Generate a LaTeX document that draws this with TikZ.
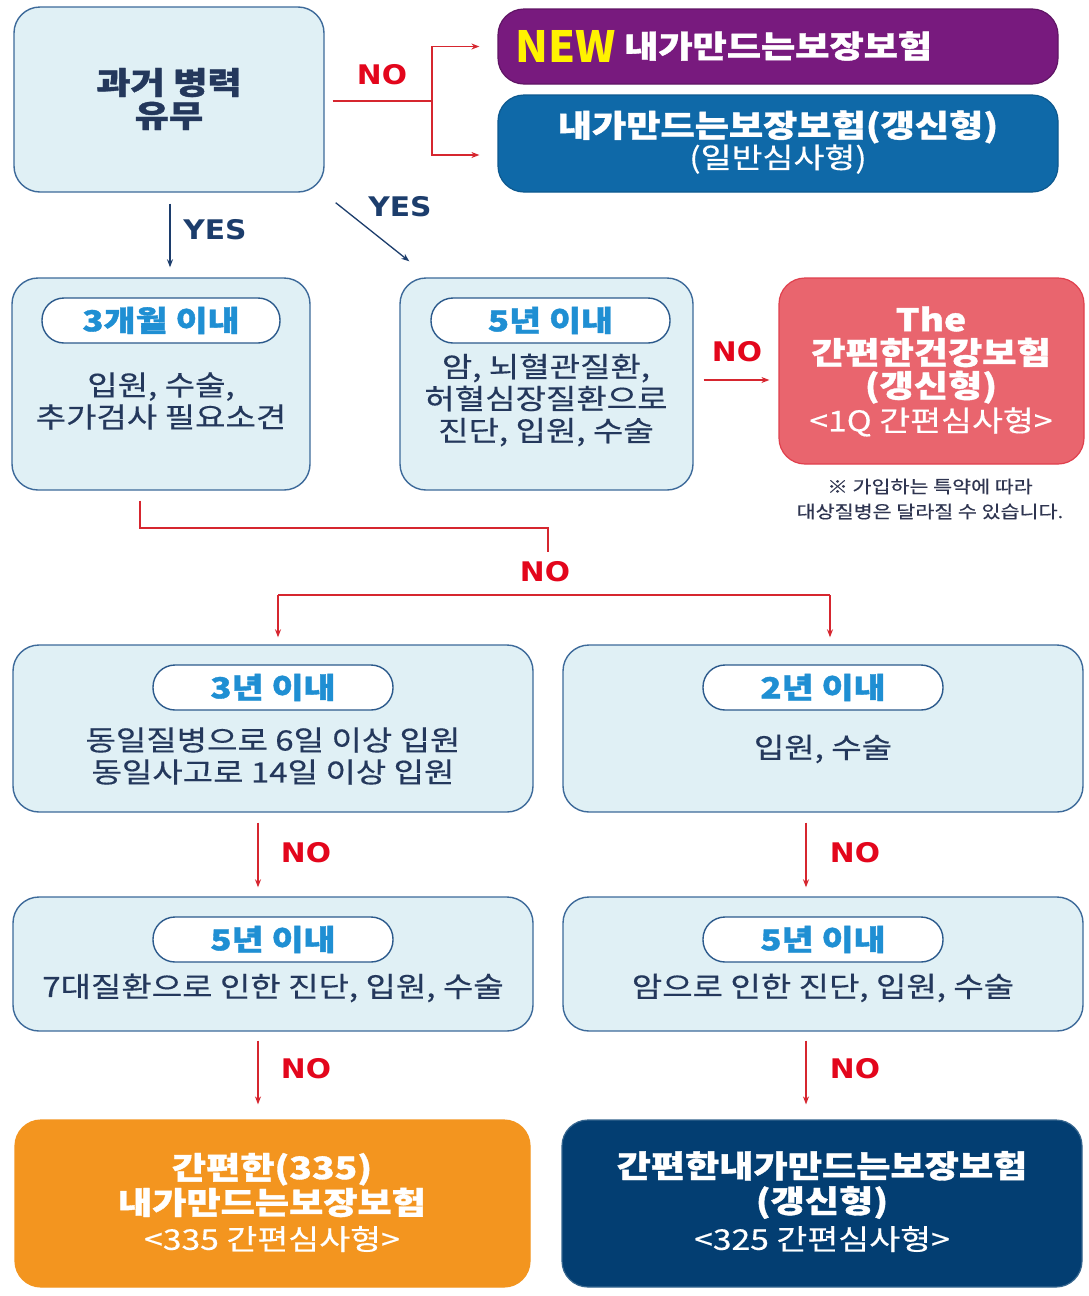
\documentclass[tikz,border=0pt]{standalone}
\usepackage{fontspec}
\newfontfamily\kr{Noto Sans CJK KR}[FakeStretch=1.18, FakeBold=0.4]
\newfontfamily\krb{Noto Sans CJK KR}[FakeStretch=1.2, BoldFeatures={FakeBold=1.2}]
\newfontfamily\krn{Noto Sans CJK KR}
\newfontfamily\dv{DejaVu Sans}[FakeStretch=1.1]
\usetikzlibrary{arrows.meta,calc}
\definecolor{boxfill}{HTML}{E0F0F5}
\definecolor{boxline}{HTML}{3D6A9A}
\definecolor{pillline}{HTML}{2C5A8C}
\definecolor{pilltext}{HTML}{1F8FD3}
\definecolor{bodytext}{HTML}{24385C}
\definecolor{yesnavy}{HTML}{1C3D6C}
\definecolor{nored}{HTML}{E3061C}
\definecolor{linered}{HTML}{D6262F}
\definecolor{purplebox}{HTML}{781A7E}
\definecolor{bluebox}{HTML}{0F69A8}
\definecolor{redbox}{HTML}{E9656E}
\definecolor{redline}{HTML}{E0404D}
\definecolor{orangebox}{HTML}{F3951F}
\definecolor{navybox}{HTML}{033E72}
\definecolor{notetext}{HTML}{2F3550}
\definecolor{newyellow}{HTML}{FFF200}
\tikzset{
  lbox/.style={draw=boxline, fill=boxfill, line width=1.4pt, rounded corners=26pt, inner sep=0pt},
  colbox/.style={rounded corners=26pt, inner sep=0pt, line width=1.2pt},
  pill/.style={draw=pillline, fill=white, line width=1.4pt, rounded corners=22pt, minimum height=45pt, inner sep=0pt, text=pilltext, font=\krb\bfseries\fontsize{29}{30}\selectfont},
  body/.style={text=bodytext, align=center, inner sep=0pt, font=\kr\fontsize{28}{32}\selectfont},
  dtitle/.style={text=bodytext, align=center, inner sep=0pt, font=\krb\bfseries\fontsize{31}{33}\selectfont},
  wtitle/.style={text=white, align=center, inner sep=0pt, font=\krb\bfseries\fontsize{31}{33}\selectfont},
  wsub/.style={text=white, align=center, inner sep=0pt, font=\kr\fontsize{28.5}{32}\selectfont},
  nolab/.style={text=nored, inner sep=0pt, font=\dv\bfseries\fontsize{27}{27}\selectfont},
  yeslab/.style={text=yesnavy, inner sep=0pt, font=\dv\bfseries\fontsize{27}{27}\selectfont},
  noline/.style={draw=linered, line width=1.3pt},
  yesline/.style={draw=yesnavy, line width=1.3pt},
  tip/.style={-{Stealth[length=8pt,width=6pt]}},
  note/.style={text=notetext, align=center, inner sep=0pt, font=\kr\fontsize{17.5}{25}\selectfont}
}
\begin{document}
\begin{tikzpicture}[x=1pt,y=-1pt]
\fill[white] (0,0) rectangle (1089,1296);
\useasboundingbox (0,0) rectangle (1089,1296);

% boxes
\node[lbox, minimum width=310pt, minimum height=185pt] (A) at (169,99.5) {};
\node[colbox, fill=purplebox, draw=purplebox!80!black, minimum width=560pt, minimum height=75pt] (P) at (778,46.5) {};
\node[colbox, fill=bluebox, draw=bluebox!85!black, minimum width=560pt, minimum height=97pt] (Q) at (778,143.5) {};
\node[lbox, minimum width=298pt, minimum height=212pt] (B) at (161,384) {};
\node[lbox, minimum width=293pt, minimum height=212pt] (C) at (546.5,384) {};
\node[colbox, fill=redbox, draw=redline, minimum width=305pt, minimum height=186pt] (D) at (931.5,371) {};
\node[lbox, minimum width=520pt, minimum height=167pt] (E) at (273,728.5) {};
\node[lbox, minimum width=520pt, minimum height=167pt] (F) at (823,728.5) {};
\node[lbox, minimum width=520pt, minimum height=134pt] (G) at (273,964) {};
\node[lbox, minimum width=520pt, minimum height=134pt] (H) at (823,964) {};
\node[colbox, fill=orangebox, draw=orangebox, minimum width=515pt, minimum height=167pt] (I) at (272.5,1203.5) {};
\node[colbox, fill=navybox, draw=navybox!80!white, minimum width=520pt, minimum height=167pt] (J) at (822,1203.5) {};

% pills
\node[pill, minimum width=238pt] (pB) at (161,320.5) {3개월 이내};
\node[pill, minimum width=239pt] (pC) at (550.5,320.5) {5년 이내};
\node[pill, minimum width=240pt] (pE) at (273,687.5) {3년 이내};
\node[pill, minimum width=240pt] (pF) at (823,687.5) {2년 이내};
\node[pill, minimum width=240pt] (pG) at (273,939.5) {5년 이내};
\node[pill, minimum width=240pt] (pH) at (823,939.5) {5년 이내};

% texts
\node[dtitle] (tA) at (169,99) {과거 병력\\유무};
\node[anchor=west, inner sep=0pt, text=newyellow, font=\krn\bfseries\fontsize{43}{43}\selectfont] (tNEW) at (515,46) {NEW};
\node[anchor=west, wtitle] (tP) at (624,46) {내가만드는보장보험};
\node[wtitle] (tQ1) at (778,127) {내가만드는보장보험(갱신형)};
\node[wsub] (tQ2) at (778,159) {(일반심사형)};
\node[body] (tB) at (161,401) {입원, 수술,\\추가검사 필요소견};
\node[body] (tC) at (546,400) {암, 뇌혈관질환,\\허혈심장질환으로\\진단, 입원, 수술};
\node[wtitle] (tD1) at (931,355) {The\\간편한건강보험\\(갱신형)};
\node[wsub] (tD2) at (931,422) {<1Q 간편심사형>};
\node[note] (tN) at (930,499) {※ 가입하는 특약에 따라\\대상질병은 달라질 수 있습니다.};
\node[body] (tE) at (273,756) {동일질병으로 6일 이상 입원\\동일사고로 14일 이상 입원};
\node[body] (tF) at (823,749) {입원, 수술};
\node[body] (tG) at (273,988) {7대질환으로 인한 진단, 입원, 수술};
\node[body] (tH) at (823,988) {암으로 인한 진단, 입원, 수술};
\node[wtitle, font=\krb\bfseries\fontsize{31}{35}\selectfont] (tI1) at (272,1185) {간편한(335)\\내가만드는보장보험};
\node[wsub] (tI2) at (272,1239) {<335 간편심사형>};
\node[wtitle, font=\krb\bfseries\fontsize{31}{35}\selectfont] (tJ1) at (822,1185) {간편한내가만드는보장보험\\(갱신형)};
\node[wsub] (tJ2) at (822,1239) {<325 간편심사형>};

% labels
\node[nolab] (n1) at (382,75) {NO};
\node[yeslab] (y1) at (215,230) {YES};
\node[yeslab] (y2) at (400,207) {YES};
\node[nolab] (n2) at (737,352) {NO};
\node[nolab] (n3) at (545,572) {NO};
\node[nolab] (n4) at (306,853) {NO};
\node[nolab] (n5) at (855,853) {NO};
\node[nolab] (n6) at (306,1069) {NO};
\node[nolab] (n7) at (855,1069) {NO};

% connectors
\coordinate (nj) at (432,101);
\draw[noline] ($(A.east)+(8,1.5)$) -- (nj);
\draw[noline,tip] (nj) |- ($(P.west)+(-18,0)$);
\draw[noline,tip] (nj) |- ($(Q.west)+(-18,11.5)$);
\draw[yesline,tip] ($(A.south)+(1,11)$) -- ($(A.south |- B.north)+(1,-10)$);
\draw[yesline,tip] ($(A.south east)+(11,10)$) -- ($(C.north west)+(10,-16)$);
\draw[noline,tip] ($(C.east)+(10,-4)$) -- ($(C.east -| D.west)+(-9,-4)$);
\coordinate (j1) at (548,528);
\coordinate (j2) at (548,552);
\coordinate (hl) at (278,595);
\coordinate (hr) at (830,595);
\draw[noline] ($(B.south)+(-21,10)$) |- (j1) -- (j2);
\draw[noline] (hl) -- (hr);
\draw[noline,tip] (hl) -- ($(hl |- E.north)+(0,-7)$);
\draw[noline,tip] (hr) -- ($(hr |- F.north)+(0,-7)$);
\draw[noline,tip] ($(E.south)+(-15,10)$) -- ($(E.south |- G.north)+(-15,-9)$);
\draw[noline,tip] ($(F.south)+(-17,10)$) -- ($(F.south |- H.north)+(-17,-9)$);
\draw[noline,tip] ($(G.south)+(-15,9)$) -- ($(G.south |- I.north)+(-15,-15)$);
\draw[noline,tip] ($(H.south)+(-17,9)$) -- ($(H.south |- J.north)+(-17,-15)$);
\end{tikzpicture}
\end{document}
